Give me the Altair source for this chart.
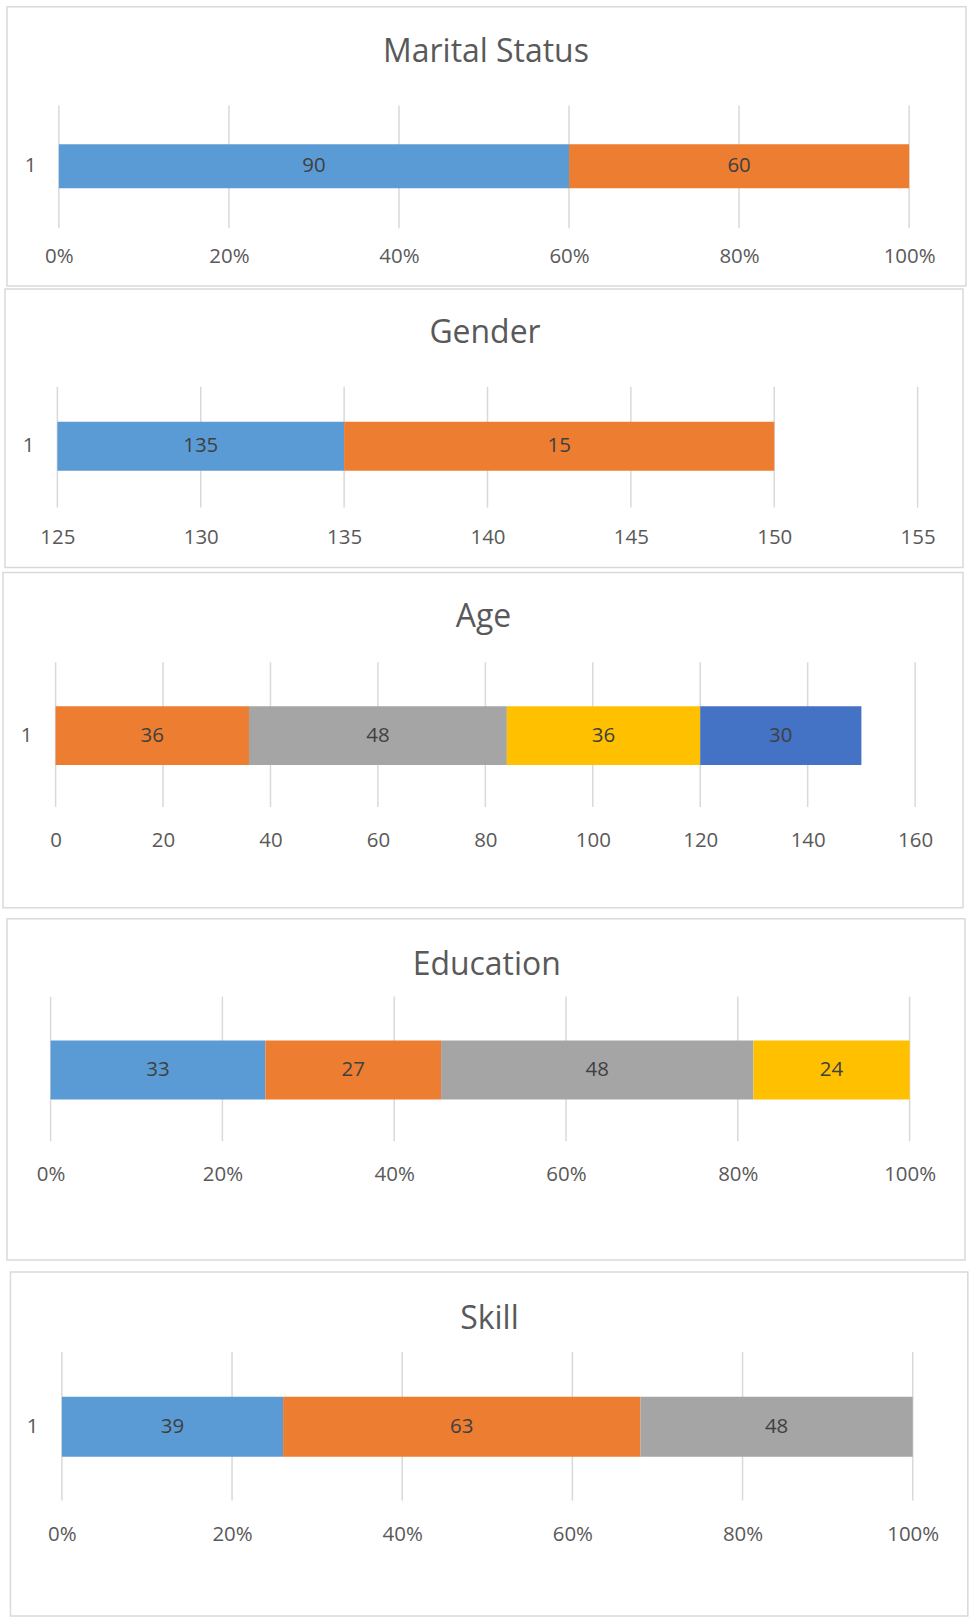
import altair as alt
import pandas as pd

# ---- chart values -------------------------------------------------------
TITLES = ["Marital Status", "Gender", "Age", "Education", "Skill"]
ROW_LABEL = "1"

SERIES = ["S1", "S2", "S3", "S4", "S5"]
PALETTE = ["#5B9BD5", "#ED7D31", "#A5A5A5", "#FFC000", "#4472C4"]

MARITAL_SERIES = ["S1", "S2"]
MARITAL_VALUES = [90, 60]

GENDER_SERIES = ["S1", "S2"]
GENDER_VALUES = [135, 15]

AGE_SERIES = ["S2", "S3", "S4", "S5"]
AGE_VALUES = [36, 48, 36, 30]

EDUCATION_SERIES = ["S1", "S2", "S3", "S4"]
EDUCATION_VALUES = [33, 27, 48, 24]

SKILL_SERIES = ["S1", "S2", "S3"]
SKILL_VALUES = [39, 63, 48]

PCT_TICKS = [0, 0.2, 0.4, 0.6, 0.8, 1.0]
GENDER_TICKS = [125, 130, 135, 140, 145, 150, 155]
AGE_TICKS = [0, 20, 40, 60, 80, 100, 120, 140, 160]

# ---- styling -------------------------------------------------------------
FONT = "Open Sans"
TEXT = "#595959"
LABEL = "#404040"
LINE = "#D9D9D9"
W = 969

# per-panel geometry, in pixels local to each panel's slot
LAYOUT = [
    dict(h=287, frame=(7, 968, 5, 285), title=(487, 60.5), grid=(104, 227),
         bar=(143, 187), xr=(59, 911), tick_base=261.7, row_right=36),
    dict(h=283, frame=(5, 965, 1, 280), title=(486, 55.3), grid=(99, 220),
         bar=(134, 183), xr=(57.5, 919.5), tick_base=255.6, row_right=34),
    dict(h=344, frame=(3, 965, 2, 338), title=(484.5, 56.7), grid=(92, 237),
         bar=(136, 195), xr=(55.7, 917), tick_base=276.2, row_right=32),
    dict(h=353, frame=(7, 967, 5, 347), title=(487.7, 61), grid=(83, 228),
         bar=(127, 186), xr=(50.7, 911.5), tick_base=267.5, row_right=None),
    dict(h=352, frame=(10.5, 969.8, 6, 350.6), title=(490.5, 63), grid=(86, 235),
         bar=(131, 191), xr=(62, 914.6), tick_base=274.7, row_right=38),
]


def panel(i, series, values, ticks, fmt, domain, normalize):
    L = LAYOUT[i]
    df = pd.DataFrame({
        "series": series,
        "value": values,
        "order": list(range(len(series))),
        "row": [ROW_LABEL] * len(series),
    })

    xs = alt.Scale(domain=domain, range=list(L["xr"]), nice=False,
                   zero=False, clamp=True)
    ys = alt.Scale(domain=[ROW_LABEL], range=list(L["bar"]),
                   paddingInner=0, paddingOuter=0)

    x_axis = alt.Axis(values=ticks, format=fmt, title=None, grid=False,
                      domain=False, ticks=False, tickSize=0, labelPadding=0,
                      labelBaseline="alphabetic", labelFont=FONT,
                      labelFontSize=20.5, labelColor=TEXT, labelFlush=False,
                      labelOverlap=False, orient="bottom",
                      offset=-(L["h"] - L["tick_base"]))
    if L["row_right"] is None:
        y_axis = alt.Axis(labels=False, title=None, grid=False, domain=False,
                          ticks=False, tickSize=0)
    else:
        y_axis = alt.Axis(title=None, grid=False, domain=False, ticks=False,
                          tickSize=0, labelPadding=0, labelFont=FONT,
                          labelFontSize=20.5, labelColor=TEXT,
                          labelAlign="right", labelBaseline="middle",
                          orient="left", offset=-L["row_right"])

    color = alt.Color("series:N", scale=alt.Scale(domain=SERIES, range=PALETTE),
                      legend=None)

    stacked = alt.Chart(df).transform_stack(
        stack="value", groupby=["row"], as_=["x0", "x1"],
        sort=[alt.SortField("order")],
        offset="normalize" if normalize else "zero",
    ).transform_calculate(
        mid=f"(max(datum.x0, {domain[0]}) + datum.x1) / 2"
    )

    # light grey frame around the whole panel
    fl, fr, ft, fb = L["frame"]
    frame = alt.Chart(pd.DataFrame({"k": [0]})).mark_rect(
        fillOpacity=0, stroke=LINE, strokeWidth=1.5
    ).encode(x=alt.value(fl), x2=alt.value(fr), y=alt.value(ft), y2=alt.value(fb))

    grid = alt.Chart(pd.DataFrame({"tick": ticks})).mark_rule(
        color=LINE, strokeWidth=1.5
    ).encode(
        x=alt.X("tick:Q", scale=xs, axis=x_axis),
        y=alt.value(L["grid"][0]),
        y2=alt.value(L["grid"][1]),
    )

    bars = stacked.mark_bar().encode(
        x=alt.X("x0:Q", scale=xs, axis=x_axis),
        x2="x1:Q",
        y=alt.Y("row:N", scale=ys, axis=y_axis),
        color=color,
    )

    labels = stacked.mark_text(
        font=FONT, fontSize=20.5, color=LABEL, baseline="middle", align="center"
    ).encode(
        x=alt.X("mid:Q", scale=xs, axis=x_axis),
        y=alt.Y("row:N", scale=ys, axis=y_axis),
        text=alt.Text("value:Q"),
    )

    title = alt.Chart(pd.DataFrame({"title": [TITLES[i]]})).mark_text(
        font=FONT, fontSize=32, color=TEXT, baseline="alphabetic", align="center"
    ).encode(
        x=alt.value(L["title"][0]),
        y=alt.value(L["title"][1]),
        text="title:N",
    )

    return alt.layer(frame, grid, bars, labels, title).properties(
        width=W, height=L["h"]
    )


panels = [
    panel(0, MARITAL_SERIES, MARITAL_VALUES, PCT_TICKS, ".0%", [0, 1], True),
    panel(1, GENDER_SERIES, GENDER_VALUES, GENDER_TICKS, "d", [125, 155], False),
    panel(2, AGE_SERIES, AGE_VALUES, AGE_TICKS, "d", [0, 160], False),
    panel(3, EDUCATION_SERIES, EDUCATION_VALUES, PCT_TICKS, ".0%", [0, 1], True),
    panel(4, SKILL_SERIES, SKILL_VALUES, PCT_TICKS, ".0%", [0, 1], True),
]

chart = alt.vconcat(*panels, spacing=0, bounds="flush").properties(
    padding=0,
    background="white",
).configure_view(stroke=None)

chart.save("out.html", embed_options={"renderer": "svg", "actions": False})
